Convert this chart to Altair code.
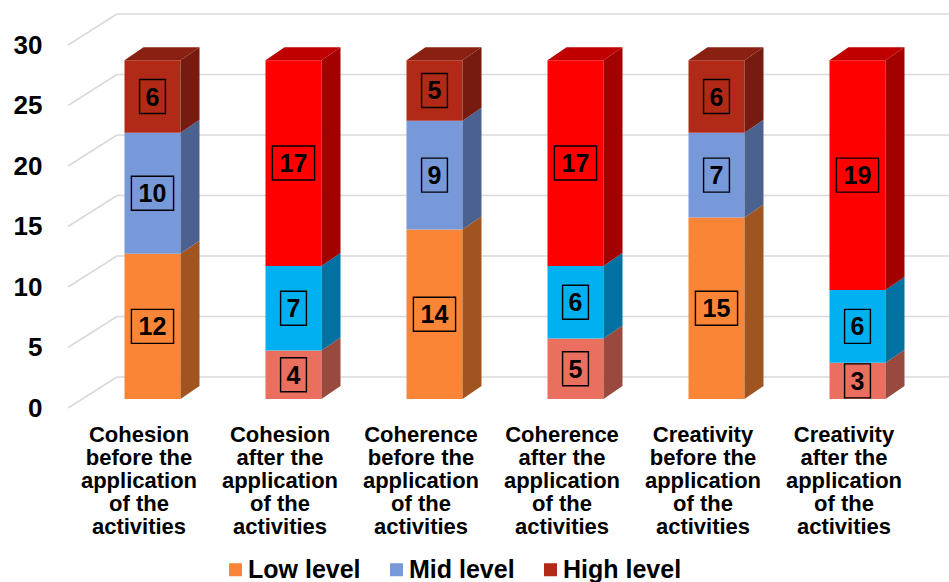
import json
import altair as alt
import pandas as pd

# ---- data ----
categories = [
    "Cohesion\nbefore the\napplication\nof the\nactivities",
    "Cohesion\nafter the\napplication\nof the\nactivities",
    "Coherence\nbefore the\napplication\nof the\nactivities",
    "Coherence\nafter the\napplication\nof the\nactivities",
    "Creativity\nbefore the\napplication\nof the\nactivities",
    "Creativity\nafter the\napplication\nof the\nactivities",
]
phases = ["before", "after", "before", "after", "before", "after"]
levels = ["Low level", "Mid level", "High level"]
low_level = [12, 4, 14, 5, 15, 3]
mid_level = [10, 7, 9, 6, 7, 6]
high_level = [6, 17, 5, 17, 6, 19]
y_ticks = [0, 5, 10, 15, 20, 25, 30]

# ---- colours (front face / side face / top face) ----
FRONT = {"before": ["#FB8536", "#7799D9", "#B12A18"],
         "after": ["#EA6F5E", "#00B0F0", "#FF0000"]}
SIDE = {"before": ["#A0541F", "#4B6290", "#771B10"],
        "after": ["#99493E", "#0071A0", "#A30000"]}
TOP = {"before": "#8A2012", "after": "#C00000"}

# ---- pseudo-3D geometry (pixels) ----
N = len(categories)
Y_MAX = 30
W, H = 846, 363
PX_X = W / N
PX_Y = H / Y_MAX
BAR_W = 56          # front face width
BAR_DX, BAR_DY = 14, 9      # bar front plane relative to front wall
DEPTH_X, DEPTH_Y = 19, 13   # bar depth
WALL_DX, WALL_DY = 49, 31   # back wall relative to front wall
FONT = "Liberation Sans"

dxu = DEPTH_X / PX_X
dyu = DEPTH_Y / PX_Y


def key(level, phase, face=""):
    k = level if phase == "before" else f"{level} after"
    return k + face


domain, rng = [], []
for ph in ["before", "after"]:
    for j, lv in enumerate(levels):
        domain += [key(lv, ph), key(lv, ph, " side")]
        rng += [FRONT[ph][j], SIDE[ph][j]]
    domain.append(key("High level", ph, " top"))
    rng.append(TOP[ph])
color_scale = alt.Scale(domain=domain, range=rng)

seg_rows, side_rows, top_rows = [], [], []
for i in range(N):
    ph = phases[i]
    center = i + 0.5
    left = center - BAR_W / 2 / PX_X
    right = center + BAR_W / 2 / PX_X
    base = 0
    for j, (lv, vals) in enumerate(zip(levels, [low_level, mid_level, high_level])):
        v = vals[i]
        seg = dict(center=center, left=left, right=right, bottom=base, top=base + v,
                   mid=base + v / 2, value=v, digits=str(len(str(v))),
                   key=key(lv, ph))
        seg_rows.append(seg)
        sid = f"{i}-{j}"
        side_rows.append(dict(sx=right, sy=base, sy2=base + v, seg=sid, key=key(lv, ph, " side")))
        side_rows.append(dict(sx=right + dxu, sy=base + dyu, sy2=base + v + dyu, seg=sid,
                              key=key(lv, ph, " side")))
        base += v
    top_rows.append(dict(ty=base, tx=left, tx2=right, bar=i, key=key("High level", ph, " top")))
    top_rows.append(dict(ty=base + dyu, tx=left + dxu, tx2=right + dxu, bar=i,
                         key=key("High level", ph, " top")))

segs = pd.DataFrame(seg_rows)
sides = pd.DataFrame(side_rows)
tops = pd.DataFrame(top_rows)
grid = pd.DataFrame({"v": y_ticks})

x_scale = alt.Scale(domain=[0, N], nice=False, zero=False)
y_scale = alt.Scale(domain=[0, Y_MAX], nice=False)

label_lines = json.dumps([c.split("\n") for c in categories])

# gridlines: diagonal on the side wall, then horizontal on the back wall
grid_diag = alt.Chart(grid).mark_rule(
    color="#D9D9D9", strokeWidth=1.5, x2Offset=WALL_DX, y2Offset=-WALL_DY
).encode(
    x=alt.X("datum_x:Q", scale=x_scale,
            axis=alt.Axis(values=[i + 0.5 for i in range(N)],
                          labelExpr=f"{label_lines}[round(datum.value - 0.5)]",
                          grid=False, domain=False, ticks=False, title=None,
                          labelFont=FONT, labelFontSize=22, labelFontWeight="bold",
                          labelColor="#000000", labelLineHeight=23,
                          labelBaseline="top", labelPadding=16)),
    x2=alt.datum(0),
    y=alt.Y("v:Q", scale=y_scale,
            axis=alt.Axis(values=y_ticks, grid=False, domain=False, ticks=False,
                          title=None, labelFont=FONT, labelFontSize=26,
                          labelFontWeight="bold", labelColor="#000000",
                          labelPadding=26)),
    y2="v:Q",
).transform_calculate(datum_x="0")

grid_back = alt.Chart(grid).mark_rule(
    color="#D9D9D9", strokeWidth=1.5, xOffset=WALL_DX, x2Offset=WALL_DX + 60,
    yOffset=-WALL_DY
).encode(
    x=alt.datum(0, scale=x_scale),
    x2=alt.datum(N),
    y=alt.Y("v:Q", scale=y_scale),
)

front = alt.Chart(segs).mark_bar(
    xOffset=BAR_DX, x2Offset=BAR_DX, yOffset=-BAR_DY, y2Offset=-BAR_DY
).encode(
    x=alt.X("left:Q", scale=x_scale),
    x2="right:Q",
    y=alt.Y("bottom:Q", scale=y_scale),
    y2="top:Q",
    color=alt.Color("key:N", scale=color_scale,
                    legend=alt.Legend(values=levels, orient="none", legendX=155,
                                      legendY=512, direction="horizontal",
                                      title=None, symbolType="square", padding=0,
                                      symbolSize=169, symbolStrokeWidth=0,
                                      labelFont=FONT, labelFontSize=25,
                                      labelFontWeight="bold", labelColor="#000000",
                                      labelOffset=0, columnPadding=23)),
)

side = alt.Chart(sides).mark_area(
    xOffset=BAR_DX, yOffset=-BAR_DY, y2Offset=-BAR_DY
).encode(
    x=alt.X("sx:Q", scale=x_scale),
    y=alt.Y("sy:Q", scale=y_scale),
    y2="sy2:Q",
    detail="seg:N",
    color=alt.Color("key:N", scale=color_scale, legend=None),
)

top = alt.Chart(tops).mark_area(
    orient="horizontal", xOffset=BAR_DX, x2Offset=BAR_DX, yOffset=-BAR_DY
).encode(
    y=alt.Y("ty:Q", scale=y_scale),
    x=alt.X("tx:Q", scale=x_scale),
    x2="tx2:Q",
    detail="bar:N",
    color=alt.Color("key:N", scale=color_scale, legend=None),
)

BOX_H = 34
boxes = alt.Chart(segs).mark_point(
    filled=False, stroke="#000000", strokeWidth=1.4, size=BOX_H ** 2,
    xOffset=BAR_DX, yOffset=-BAR_DY, opacity=1
).encode(
    x=alt.X("center:Q", scale=x_scale),
    y=alt.Y("mid:Q", scale=y_scale),
    shape=alt.Shape("digits:N", legend=None,
                    scale=alt.Scale(domain=["1", "2"],
                                    range=["M-0.76,-1H0.76V1H-0.76Z",
                                           "M-1.24,-1H1.24V1H-1.24Z"])),
)

labels = alt.Chart(segs).mark_text(
    font=FONT, fontSize=25, fontWeight="bold", color="#000000",
    dx=BAR_DX, dy=-BAR_DY + 1, baseline="middle", align="center"
).encode(
    x=alt.X("center:Q", scale=x_scale),
    y=alt.Y("mid:Q", scale=y_scale),
    text="value:Q",
)

chart = alt.layer(grid_diag, grid_back, front, side, top, boxes, labels).properties(
    width=W, height=H,
    autosize=alt.AutoSizeParams(type="none"),
    padding={"left": 68, "top": 45, "right": 949 - 68 - W, "bottom": 582 - 45 - H},
    background="#FFFFFF",
).configure_view(stroke=None)

chart.save("out.html", embed_options={"renderer": "svg", "actions": False})
